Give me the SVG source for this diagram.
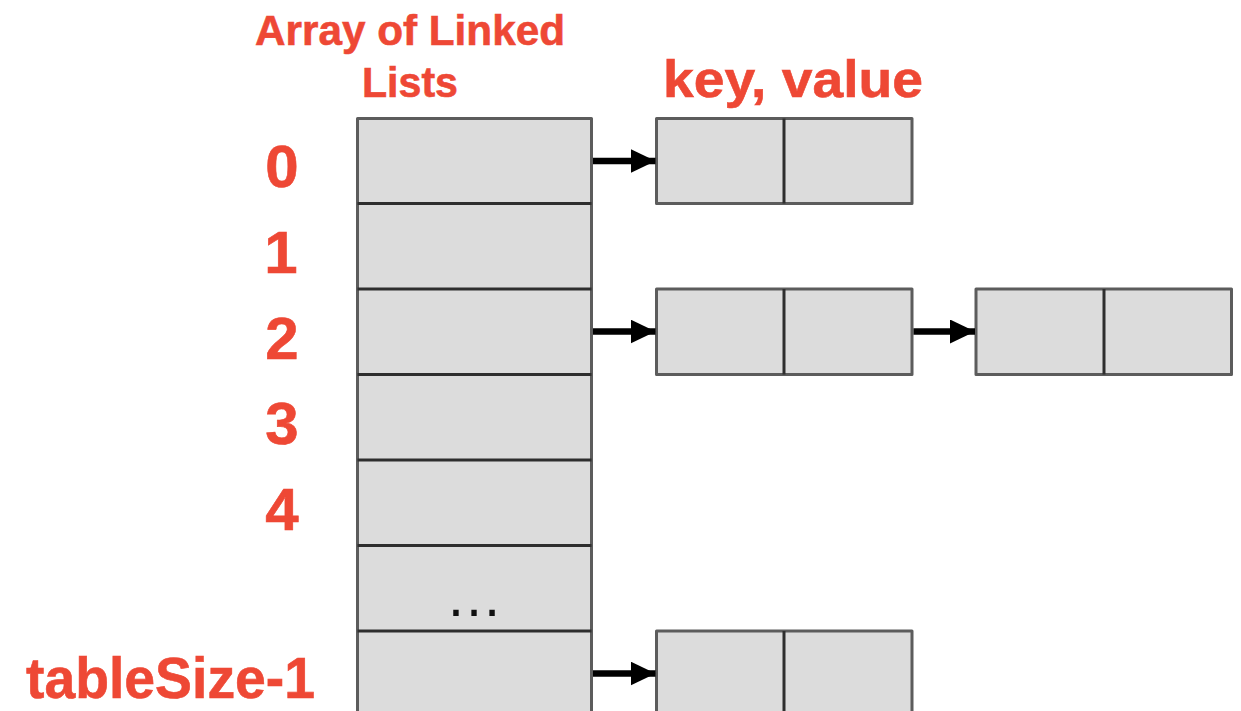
<svg xmlns="http://www.w3.org/2000/svg" width="1241" height="711" viewBox="0 0 1241 711">
  <style>
    .label { font-family: "Liberation Sans", Arial, sans-serif; font-weight: bold; fill: #EE4835; stroke: #EE4835; stroke-width: 0.6; }
    .cell { fill: #DCDCDC; stroke: #5C5C5C; stroke-width: 3; stroke-linejoin: round; }
    .divider { stroke: #2E2E2E; stroke-width: 3; }
    .link { stroke: #000; stroke-width: 6.5; fill: none; }
    .dots { font-family: "Liberation Sans", Arial, sans-serif; font-size: 57px; fill: #111; }
  </style>
  <defs>
    <marker id="head" viewBox="0 0 25 24" refX="25" refY="12" markerWidth="25" markerHeight="24" markerUnits="userSpaceOnUse" orient="auto">
      <path d="M0,0 L25,12 L0,24 Z" fill="#000"/>
    </marker>
  </defs>

  <rect width="1241" height="711" fill="#FFFFFF"/>

  <!-- headings -->
  <text class="label" x="410" y="45" font-size="43" text-anchor="middle" textLength="310" lengthAdjust="spacingAndGlyphs">Array of Linked</text>
  <text class="label" x="410" y="97" font-size="43" text-anchor="middle" textLength="96" lengthAdjust="spacingAndGlyphs">Lists</text>
  <text class="label" x="663" y="97" font-size="52" textLength="260" lengthAdjust="spacingAndGlyphs">key, value</text>

  <!-- bucket indices -->
  <g id="indices">
    <text class="label" x="282" y="187" font-size="60" text-anchor="middle">0</text>
    <text class="label" x="281" y="273" font-size="60" text-anchor="middle">1</text>
    <text class="label" x="282" y="359" font-size="60" text-anchor="middle">2</text>
    <text class="label" x="282" y="444" font-size="60" text-anchor="middle">3</text>
    <text class="label" x="282" y="530" font-size="60" text-anchor="middle">4</text>
    <text class="label" x="26" y="698" font-size="58" textLength="289" lengthAdjust="spacingAndGlyphs">tableSize-1</text>
  </g>

  <!-- bucket array -->
  <g id="bucket-array">
    <rect class="cell" x="357.5" y="118.5" width="234" height="620"/>
    <line class="divider" x1="357.5" y1="203.5" x2="591.5" y2="203.5"/>
    <line class="divider" x1="357.5" y1="289" x2="591.5" y2="289"/>
    <line class="divider" x1="357.5" y1="374.5" x2="591.5" y2="374.5"/>
    <line class="divider" x1="357.5" y1="460" x2="591.5" y2="460"/>
    <line class="divider" x1="357.5" y1="545.5" x2="591.5" y2="545.5"/>
    <line class="divider" x1="357.5" y1="631" x2="591.5" y2="631"/>
    <text class="dots" x="474" y="616" text-anchor="middle">…</text>
  </g>

  <!-- list nodes: key | value -->
  <g id="node-0a">
    <rect class="cell" x="656.5" y="118.5" width="255.5" height="85"/>
    <line class="divider" x1="784" y1="118.5" x2="784" y2="203.5"/>
  </g>
  <g id="node-2a">
    <rect class="cell" x="656.5" y="289" width="255.5" height="85.5"/>
    <line class="divider" x1="784" y1="289" x2="784" y2="374.5"/>
  </g>
  <g id="node-2b">
    <rect class="cell" x="976" y="289" width="255.5" height="85.5"/>
    <line class="divider" x1="1104" y1="289" x2="1104" y2="374.5"/>
  </g>
  <g id="node-last">
    <rect class="cell" x="656.5" y="631" width="255.5" height="110"/>
    <line class="divider" x1="784" y1="631" x2="784" y2="741"/>
  </g>

  <!-- pointers -->
  <g id="connectors">
    <line class="link" x1="593" y1="161" x2="655.5" y2="161" marker-end="url(#head)"/>
    <line class="link" x1="593" y1="331.5" x2="655.5" y2="331.5" marker-end="url(#head)"/>
    <line class="link" x1="913.5" y1="331.5" x2="975" y2="331.5" marker-end="url(#head)"/>
    <line class="link" x1="593" y1="673.5" x2="655.5" y2="673.5" marker-end="url(#head)"/>
  </g>
</svg>
